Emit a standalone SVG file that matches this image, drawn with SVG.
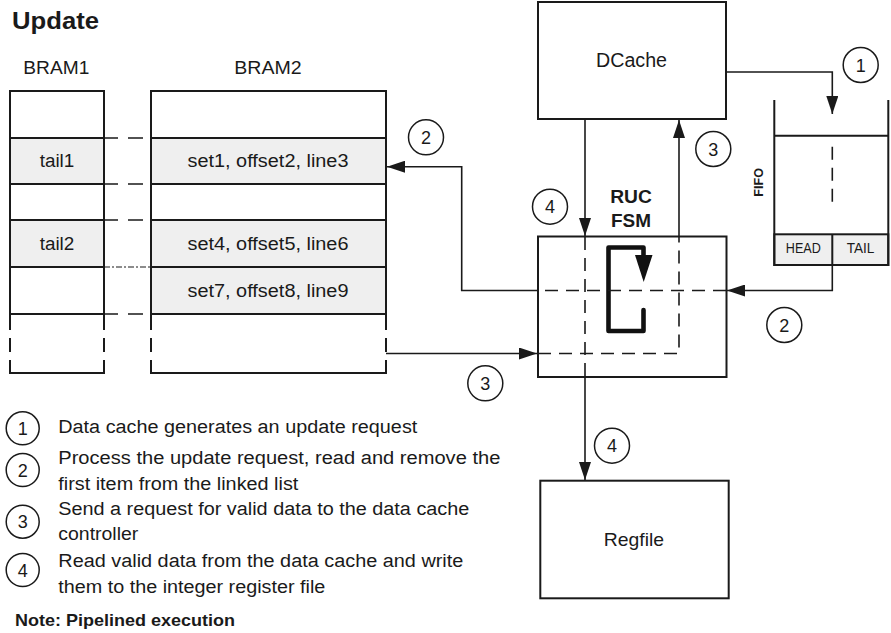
<svg xmlns="http://www.w3.org/2000/svg" width="891" height="633" viewBox="0 0 891 633">
<defs>
<marker id="arr" markerUnits="userSpaceOnUse" markerWidth="18" markerHeight="12" refX="18" refY="6" orient="auto">
<path d="M0,0 L18,6 L0,12 z" fill="#1a1a1a"/>
</marker>
<style>
text{font-family:"Liberation Sans",Arial,sans-serif;fill:#1a1a1a}
.t{font-size:18px}
.b{font-weight:bold}
.box{fill:#fff;stroke:#1a1a1a;stroke-width:2}
.cell{fill:#efefef;stroke:#1a1a1a;stroke-width:2}
.ln{fill:none;stroke:#1a1a1a;stroke-width:2}
.con{fill:none;stroke:#1a1a1a;stroke-width:1.6}
.dash{fill:none;stroke:#1a1a1a;stroke-width:1.6;stroke-dasharray:13 8}
.bd{fill:none;stroke:#1a1a1a;stroke-width:1.6;stroke-dasharray:14 10 15 8}
.num{fill:#fff;stroke:#1a1a1a;stroke-width:1.5}
.n{font-size:18px;text-anchor:middle}
.c{text-anchor:middle}
</style>
</defs>

<text id="title" class="b" x="12" y="29" font-size="23.5" textLength="87" lengthAdjust="spacingAndGlyphs">Update</text>

<g id="bram1">
<text class="t" x="23.3" y="74" textLength="66" lengthAdjust="spacingAndGlyphs">BRAM1</text>
<rect class="cell" x="10" y="138" width="94" height="46"/>
<rect class="cell" x="10" y="220" width="94" height="47"/>
<path class="ln" d="M10,314 V91 H104 V314 M10,138 H104 M10,184 H104 M10,220 H104 M10,267 H104 M10,314 H104"/>
<path class="ln" d="M10,314 V330 M10,338 V352 M10,360 V373 H104 V360 M104,352 V338 M104,330 V314"/>
<text class="t c" x="57" y="167.3" textLength="34.7" lengthAdjust="spacingAndGlyphs">tail1</text>
<text class="t c" x="57" y="250" textLength="34.7" lengthAdjust="spacingAndGlyphs">tail2</text>
</g>

<g id="bram2">
<text class="t" x="234.3" y="74" textLength="67.4" lengthAdjust="spacingAndGlyphs">BRAM2</text>
<rect class="cell" x="151" y="138" width="235" height="46"/>
<rect class="cell" x="151" y="220" width="235" height="47"/>
<rect class="cell" x="151" y="267" width="235" height="47"/>
<path class="ln" d="M151,314 V91 H386 V314 M151,138 H386 M151,184 H386 M151,220 H386 M151,267 H386 M151,314 H386"/>
<path class="ln" d="M151,314 V330 M151,338 V352 M151,360 V373 H386 V360 M386,352 V338 M386,330 V314"/>
<text class="t c" x="268" y="167.3" textLength="161" lengthAdjust="spacingAndGlyphs">set1, offset2, line3</text>
<text class="t c" x="268" y="250" textLength="161" lengthAdjust="spacingAndGlyphs">set4, offset5, line6</text>
<text class="t c" x="268" y="296.7" textLength="161" lengthAdjust="spacingAndGlyphs">set7, offset8, line9</text>
</g>

<g id="bram-links">
<path class="bd" d="M104,138 H151 M104,184 H151 M104,220 H151 M104,314 H151"/>
<path d="M104,267 H151" fill="none" stroke="#1a1a1a" stroke-width="1.2" stroke-dasharray="6 2 2 2"/>
</g>

<g id="dcache">
<rect class="box" x="538" y="2" width="188" height="117"/>
<text class="c" x="631.5" y="66.7" font-size="19.5" textLength="71" lengthAdjust="spacingAndGlyphs">DCache</text>
</g>

<g id="fifo">
<rect class="cell" x="774.3" y="234.3" width="114" height="30.7"/>
<path class="ln" d="M774.3,100 V265 H888.3 V100 M774.3,135.7 H888.3 M832.3,234.3 V265"/>
<path class="dash" d="M832.3,146.7 V209.3" stroke-dasharray="15 10"/>
<text class="b" x="763.5" y="182.3" font-size="12" text-anchor="middle" transform="rotate(-90 763.5 182.3)" textLength="28.7" lengthAdjust="spacingAndGlyphs">FIFO</text>
<text class="c" x="803.3" y="253.3" font-size="14" textLength="35" lengthAdjust="spacingAndGlyphs">HEAD</text>
<text class="c" x="860.5" y="253.3" font-size="14" textLength="27.7" lengthAdjust="spacingAndGlyphs">TAIL</text>
</g>

<g id="ruc">
<rect class="box" x="538" y="236.5" width="188.5" height="140.5"/>
<text class="b c" x="631" y="202.7" font-size="18.5" textLength="41.7" lengthAdjust="spacingAndGlyphs">RUC</text>
<text class="b c" x="631" y="226.7" font-size="18.5" textLength="40" lengthAdjust="spacingAndGlyphs">FSM</text>
<path d="M643.5,260 V247.5 H608.5 V331 H643.5 V310" fill="none" stroke="#111" stroke-width="4.6" stroke-linejoin="round" stroke-linecap="round"/>
<path d="M635,255 L652.5,255 L643.7,282 z" fill="#111"/>
</g>

<g id="regfile">
<rect class="box" x="540.3" y="480.7" width="188.4" height="117.6"/>
<text class="c" x="634" y="545.7" font-size="19" textLength="60.3" lengthAdjust="spacingAndGlyphs">Regfile</text>
</g>

<g id="connectors">
<path class="con" d="M726,72 H832.3 V114" marker-end="url(#arr)"/>
<path class="con" d="M832.3,265 V290.5 H727" marker-end="url(#arr)"/>
<path class="dash" d="M726,290.5 H538"/>
<path class="con" d="M538,290.5 H461.7 V166.7 H387" marker-end="url(#arr)"/>
<path class="con" d="M386,353.5 H537" marker-end="url(#arr)"/>
<path class="dash" d="M538,353.5 H679 V237"/>
<path class="con" d="M679,237 V120" marker-end="url(#arr)"/>
<path class="con" d="M585,119 V236" marker-end="url(#arr)"/>
<path class="dash" d="M585,237 V377"/>
<path class="con" d="M585,377 V480" marker-end="url(#arr)"/>
</g>

<g id="step-labels">
<circle class="num" cx="860.7" cy="65" r="17.5"/><text class="n" x="860.7" y="71.5">1</text>
<circle class="num" cx="426" cy="137.3" r="17.5"/><text class="n" x="426" y="143.8">2</text>
<circle class="num" cx="713.3" cy="149" r="17.5"/><text class="n" x="713.3" y="155.5">3</text>
<circle class="num" cx="550" cy="206.7" r="17.5"/><text class="n" x="550" y="213.2">4</text>
<circle class="num" cx="784.3" cy="325" r="17.5"/><text class="n" x="784.3" y="331.5">2</text>
<circle class="num" cx="485.3" cy="383.3" r="17.5"/><text class="n" x="485.3" y="389.8">3</text>
<circle class="num" cx="612" cy="445.7" r="17.5"/><text class="n" x="612" y="452.2">4</text>
</g>

<g id="legend">
<circle class="num" cx="22.7" cy="428.3" r="16.5"/><text class="n" x="22.7" y="434.8">1</text>
<circle class="num" cx="22.7" cy="470" r="16.5"/><text class="n" x="22.7" y="476.5">2</text>
<circle class="num" cx="22.7" cy="521.7" r="16.5"/><text class="n" x="22.7" y="528.2">3</text>
<circle class="num" cx="22.7" cy="570" r="16.5"/><text class="n" x="22.7" y="576.5">4</text>
<text class="t" x="58.3" y="433" textLength="359" lengthAdjust="spacingAndGlyphs">Data cache generates an update request</text>
<text class="t" x="58.3" y="464" textLength="442" lengthAdjust="spacingAndGlyphs">Process the update request, read and remove  the</text>
<text class="t" x="58.3" y="490" textLength="240" lengthAdjust="spacingAndGlyphs">first item from the linked list</text>
<text class="t" x="58.3" y="515" textLength="411" lengthAdjust="spacingAndGlyphs">Send a request for valid data to the data cache</text>
<text class="t" x="58.3" y="540" textLength="80" lengthAdjust="spacingAndGlyphs">controller</text>
<text class="t" x="58.3" y="566.7" textLength="405" lengthAdjust="spacingAndGlyphs">Read valid data from the data cache and write</text>
<text class="t" x="58.3" y="592.7" textLength="267" lengthAdjust="spacingAndGlyphs">them to the integer register file</text>
<text class="b" x="15" y="626" font-size="17" textLength="220" lengthAdjust="spacingAndGlyphs">Note: Pipelined execution</text>
</g>
</svg>
